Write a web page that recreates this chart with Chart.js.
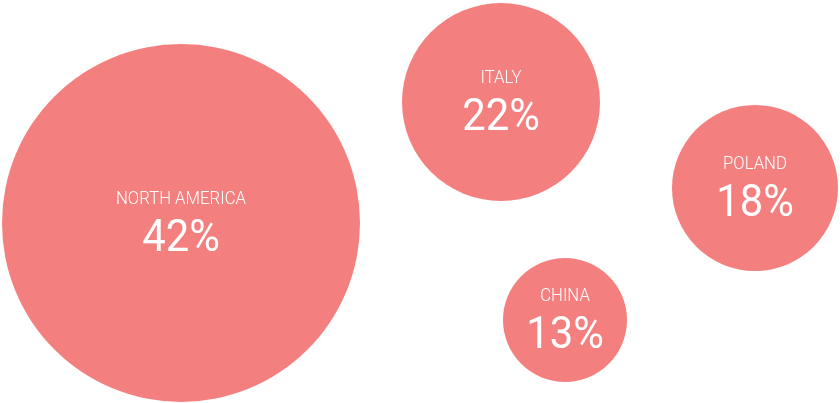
<!DOCTYPE html>
<html>
<head>
<meta charset="utf-8">
<script src="https://cdn.jsdelivr.net/npm/chart.js@4"></script>
<style>
    html, body { margin: 0; padding: 0; background: #fff; }
    #wrap { width: 840px; height: 403px; position: relative; }
</style>
</head>
<body>
<div id="wrap"><canvas id="marketChart"></canvas></div>
<script>
const regions = ['NORTH AMERICA', 'ITALY', 'POLAND', 'CHINA'];
const shares = [42, 22, 18, 13];
const posX = [181, 501, 755, 565];
const posY = [223, 102, 188, 320];
const bubbleSize = [179, 99, 83, 62];

// white region name + share drawn at each bubble centre
const bubbleLabels = {
    id: 'bubbleLabels',
    afterDatasetsDraw(chart) {
        const ctx = chart.ctx;
        const meta = chart.getDatasetMeta(0);
        meta.data.forEach((pt, i) => {
            ctx.save();
            ctx.translate(pt.x, pt.y);
            ctx.scale(0.93, 1);
            ctx.fillStyle = '#ffffff';
            ctx.textAlign = 'center';
            ctx.textBaseline = 'alphabetic';
            ctx.font = '300 18px Roboto';
            ctx.fillText(regions[i], 0, -19);
            ctx.font = '400 45px Roboto';
            ctx.fillText(shares[i] + '%', 0, 28);
            ctx.restore();
        });
    }
};

const ctx = document.getElementById('marketChart').getContext('2d');
new Chart(ctx, {
    type: 'bubble',
    data: {
        datasets: [{
            label: 'Share',
            data: regions.map((name, i) => ({ x: posX[i], y: posY[i], r: bubbleSize[i] })),
            backgroundColor: 'rgb(244, 127, 127)',
            borderWidth: 0,
            hoverRadius: 0,
            clip: false
        }]
    },
    options: {
        responsive: true,
        maintainAspectRatio: false,
        animation: false,
        layout: { padding: 0, autoPadding: false },
        scales: {
            x: { display: false, min: 0, max: 840 },
            y: { display: false, min: 0, max: 403, reverse: true }
        },
        plugins: {
            legend: { display: false },
            tooltip: { enabled: false }
        }
    },
    plugins: [bubbleLabels]
});
</script>
</body>
</html>
